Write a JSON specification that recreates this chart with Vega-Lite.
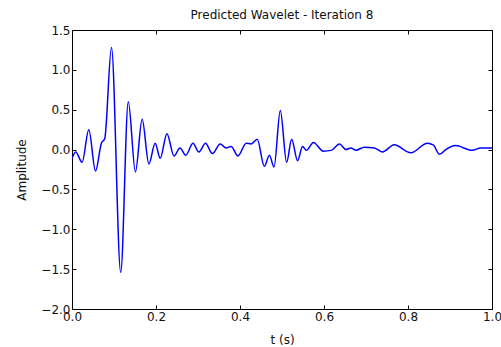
{
  "$schema": "https://vega.github.io/schema/vega-lite/v6.json",
  "width": 420,
  "height": 279,
  "autosize": {"type": "none"},
  "padding": {"left": 72, "top": 30, "right": 9, "bottom": 38},
  "background": "white",
  "config": {
    "font": "DejaVu Sans",
    "view": {"stroke": "black", "strokeWidth": 1},
    "axis": {
      "grid": false,
      "domain": false,
      "tickColor": "black",
      "tickSize": -4,
      "labelFont": "DejaVu Sans",
      "labelFontSize": 12,
      "labelColor": "#111",
      "titleFont": "DejaVu Sans",
      "titleFontSize": 12,
      "titleFontWeight": "normal",
      "titleColor": "#111"
    },
    "title": {"font": "DejaVu Sans", "fontSize": 12, "fontWeight": "normal", "color": "#111"}
  },
  "title": {"text": "Predicted Wavelet - Iteration 8", "offset": 2},
  "data": {
    "values": [
      {"t": 0.000, "a": -0.11}, {"t": 0.009, "a": -0.03}, {"t": 0.024, "a": -0.16},
      {"t": 0.040, "a": 0.25}, {"t": 0.056, "a": -0.27}, {"t": 0.070, "a": 0.08},
      {"t": 0.078, "a": 0.14}, {"t": 0.094, "a": 1.28}, {"t": 0.116, "a": -1.54},
      {"t": 0.134, "a": 0.60}, {"t": 0.151, "a": -0.28}, {"t": 0.167, "a": 0.38},
      {"t": 0.183, "a": -0.18}, {"t": 0.198, "a": 0.08}, {"t": 0.210, "a": -0.11},
      {"t": 0.226, "a": 0.20}, {"t": 0.243, "a": -0.08}, {"t": 0.257, "a": 0.02},
      {"t": 0.271, "a": -0.07}, {"t": 0.288, "a": 0.08}, {"t": 0.302, "a": -0.03},
      {"t": 0.318, "a": 0.08}, {"t": 0.334, "a": -0.05}, {"t": 0.353, "a": 0.07},
      {"t": 0.367, "a": 0.02}, {"t": 0.379, "a": 0.04}, {"t": 0.395, "a": -0.08},
      {"t": 0.415, "a": 0.08}, {"t": 0.427, "a": 0.07}, {"t": 0.441, "a": 0.13},
      {"t": 0.458, "a": -0.21}, {"t": 0.470, "a": -0.07}, {"t": 0.481, "a": -0.22},
      {"t": 0.496, "a": 0.49}, {"t": 0.511, "a": -0.16}, {"t": 0.523, "a": 0.13},
      {"t": 0.537, "a": -0.14}, {"t": 0.549, "a": 0.04}, {"t": 0.558, "a": -0.01},
      {"t": 0.575, "a": 0.09}, {"t": 0.598, "a": -0.02}, {"t": 0.617, "a": -0.01},
      {"t": 0.637, "a": 0.07}, {"t": 0.652, "a": 0.00}, {"t": 0.664, "a": 0.02},
      {"t": 0.676, "a": -0.01}, {"t": 0.696, "a": 0.03}, {"t": 0.720, "a": 0.02},
      {"t": 0.739, "a": -0.03}, {"t": 0.767, "a": 0.06}, {"t": 0.807, "a": -0.04},
      {"t": 0.846, "a": 0.08}, {"t": 0.860, "a": 0.06}, {"t": 0.875, "a": -0.06},
      {"t": 0.890, "a": 0.00}, {"t": 0.913, "a": 0.05}, {"t": 0.953, "a": -0.01},
      {"t": 0.973, "a": 0.02}, {"t": 1.000, "a": 0.02}
    ]
  },
  "layer": [
    {
      "mark": {"type": "line", "color": "#0000ff", "strokeWidth": 1.5, "interpolate": "monotone", "clip": true},
      "encoding": {
        "x": {
          "field": "t", "type": "quantitative", "title": "t (s)",
          "scale": {"domain": [0, 1], "nice": false, "zero": false},
          "axis": {"orient": "bottom", "values": [0, 0.2, 0.4, 0.6, 0.8, 1.0], "format": ".1f", "labelPadding": 6, "titlePadding": 12, "labelFlush": false}
        },
        "y": {
          "field": "a", "type": "quantitative", "title": "Amplitude",
          "scale": {"domain": [-2, 1.5], "nice": false, "zero": false},
          "axis": {"orient": "left", "values": [-2, -1.5, -1, -0.5, 0, 0.5, 1, 1.5], "format": ".1f", "labelPadding": 6, "titlePadding": 12, "labelFlush": false}
        }
      }
    },
    {
      "mark": {"type": "line", "opacity": 0},
      "encoding": {
        "x": {
          "field": "t", "type": "quantitative",
          "axis": {"orient": "top", "values": [0, 0.2, 0.4, 0.6, 0.8, 1.0], "labels": false, "title": null}
        },
        "y": {
          "field": "a", "type": "quantitative",
          "axis": {"orient": "right", "values": [-2, -1.5, -1, -0.5, 0, 0.5, 1, 1.5], "labels": false, "title": null}
        }
      }
    }
  ],
  "resolve": {"axis": {"x": "independent", "y": "independent"}}
}
